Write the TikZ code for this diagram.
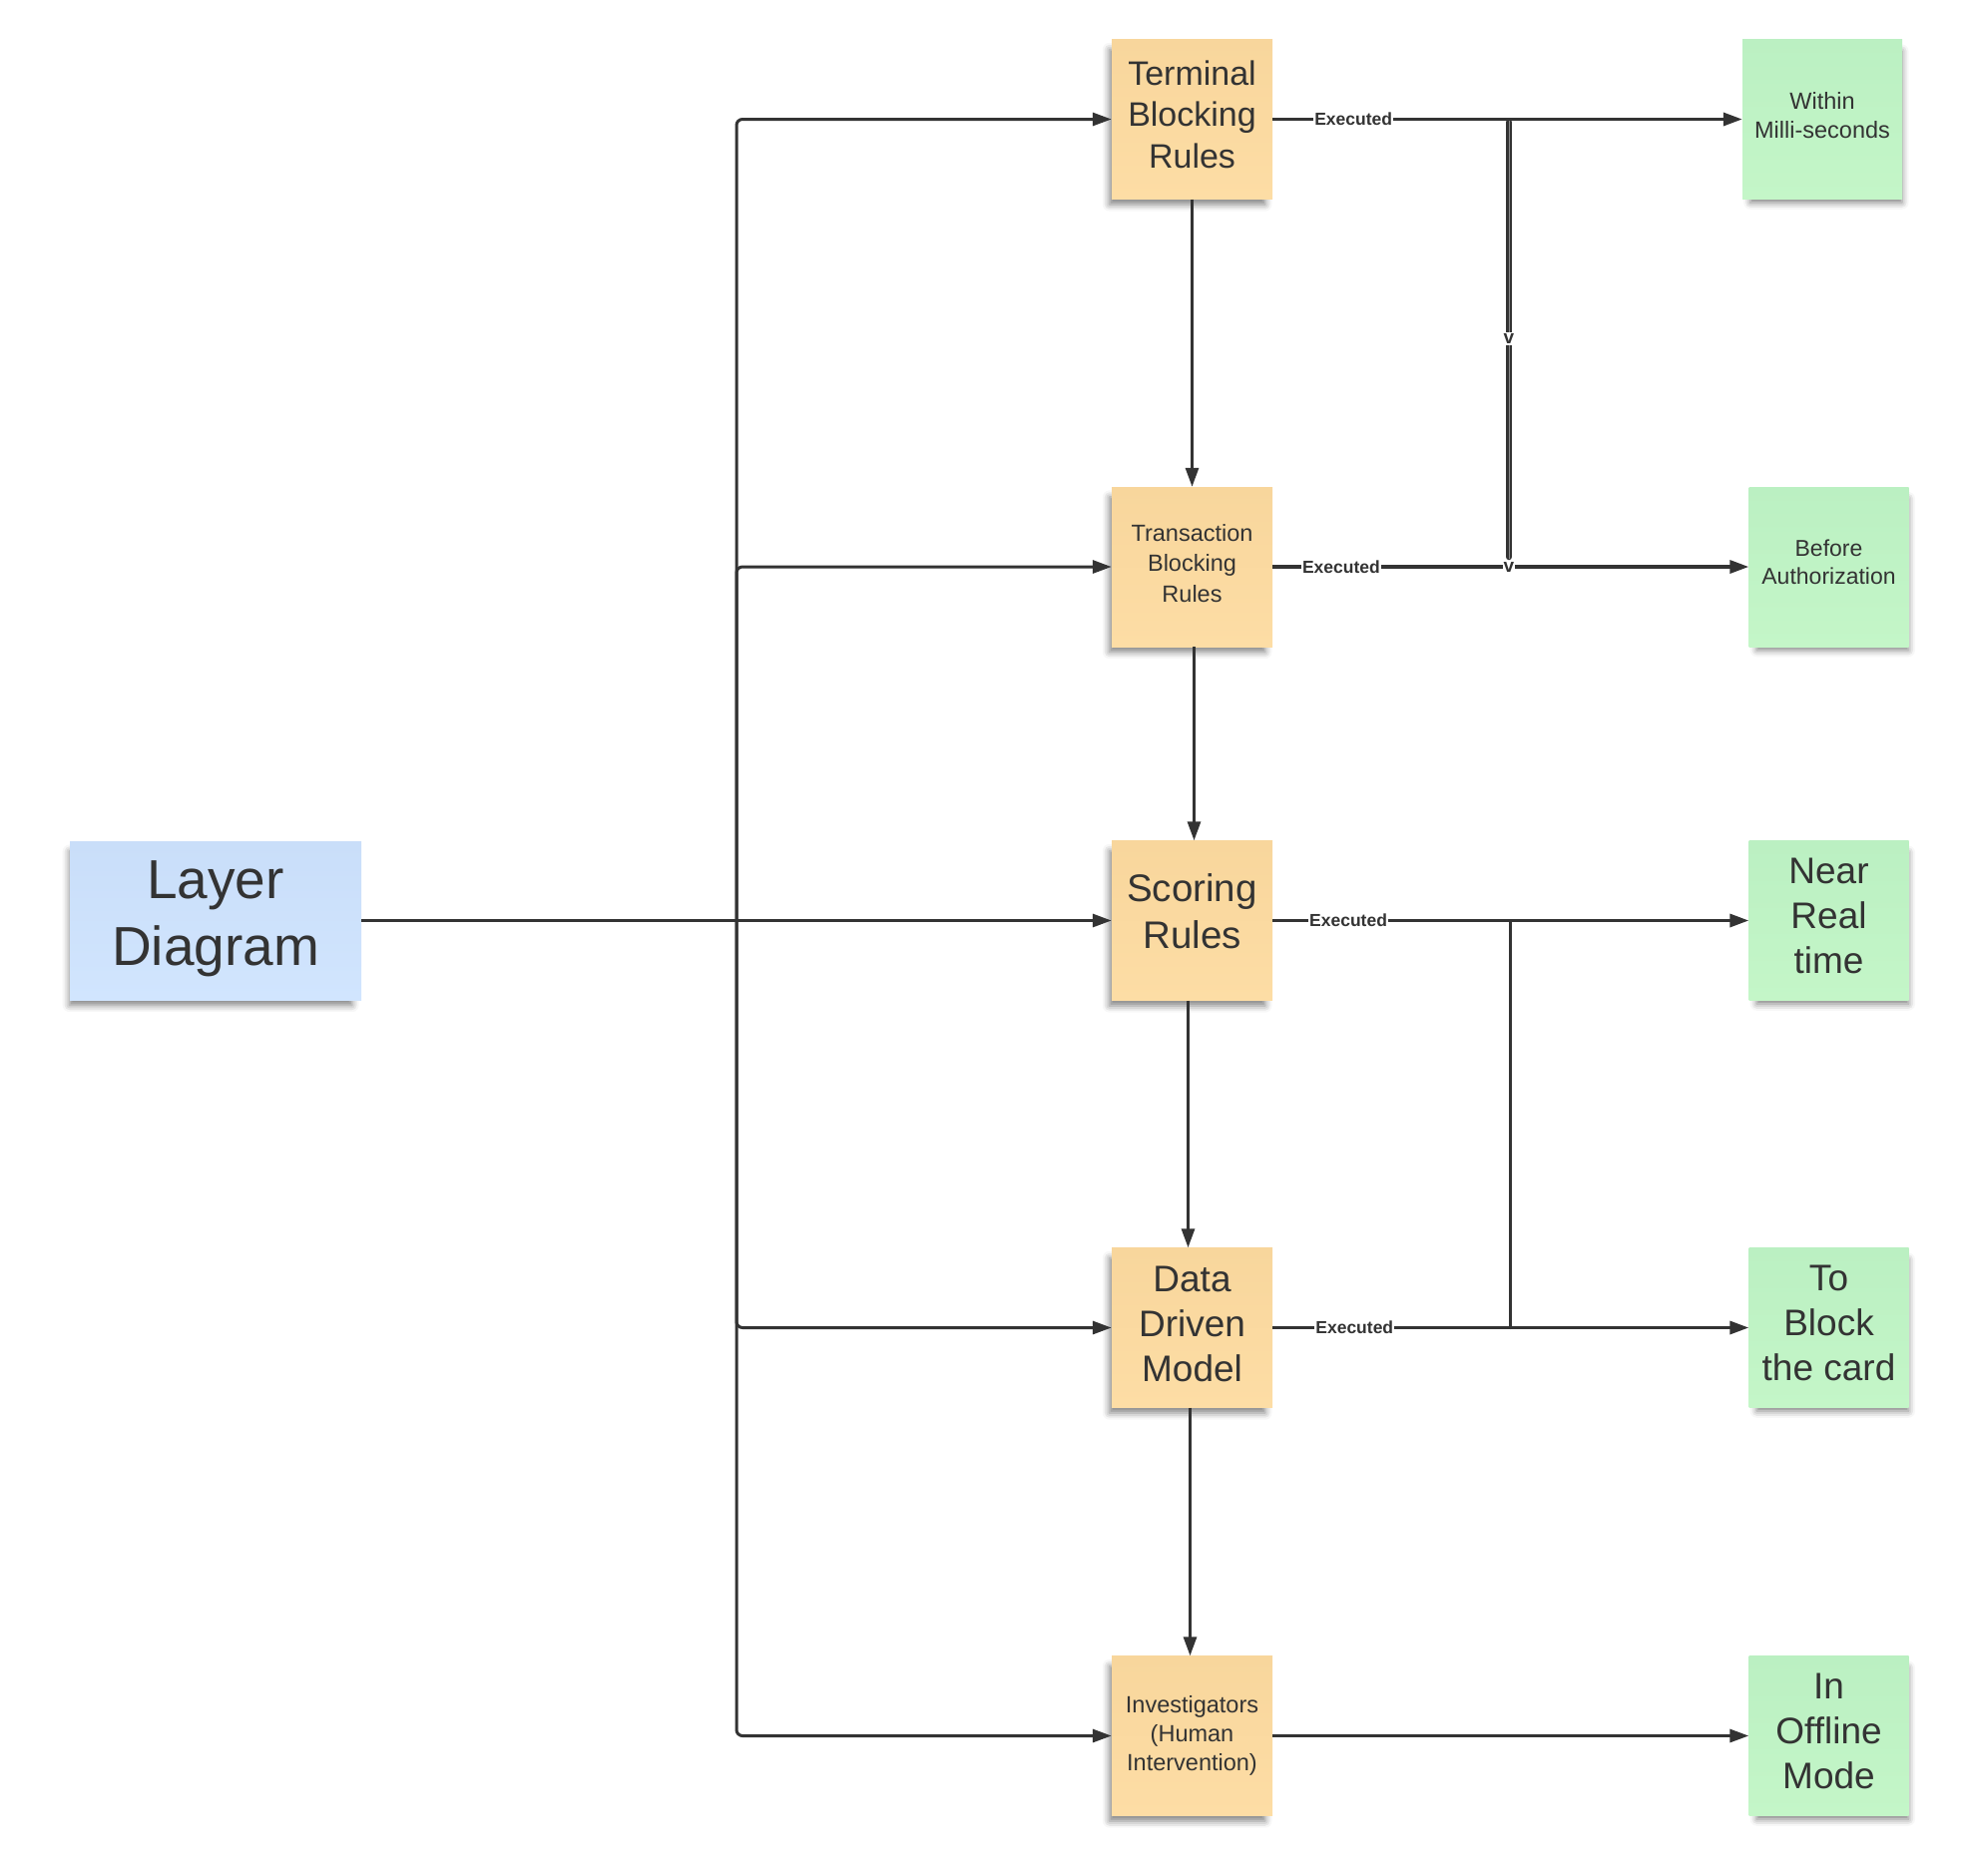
\documentclass[tikz,border=0pt]{standalone}
\usepackage{fontspec}
\setmainfont{Liberation Sans}
\usetikzlibrary{arrows.meta,shadows.blur}

\definecolor{ink}{HTML}{333333}
\definecolor{stripe}{HTML}{8A8A8A}
\definecolor{bluetop}{HTML}{C9DEF9}
\definecolor{bluebot}{HTML}{D1E5FE}
\definecolor{orangetop}{HTML}{F8D69C}
\definecolor{orangebot}{HTML}{FDDDA5}
\definecolor{greentop}{HTML}{BBF0C2}
\definecolor{greenbot}{HTML}{C4F6C8}

\newcommand{\fs}[1]{\fontsize{#1}{1.22\dimexpr #1pt\relax}\selectfont}
\newcommand{\fsl}[2]{\fontsize{#1}{#2}\selectfont}

\tikzset{
  x={(1pt,0)}, y={(0,-1pt)},
  note/.style={minimum width=161pt, minimum height=160pt, inner sep=3pt,
    align=center, text=ink},
  % deeper text box lifts the lines inside the note
  lift/.style={text depth=#1},
  leftshadow/.style={blur shadow={shadow xshift=-5pt, shadow yshift=-8pt,
    shadow opacity=50, shadow blur radius=7pt, shadow scale=0.97}},
  rightshadow/.style={blur shadow={shadow xshift=4pt, shadow yshift=-8pt,
    shadow opacity=50, shadow blur radius=7pt, shadow scale=0.95}},
  layernote/.style={note, leftshadow, top color=bluetop, bottom color=bluebot,
    minimum width=292pt, minimum height=159pt},
  rulenote/.style={note, leftshadow, top color=orangetop, bottom color=orangebot},
  timenote/.style={note, rightshadow, top color=greentop, bottom color=greenbot,
    minimum width=160pt},
  link/.style={draw=ink, line width=3pt},
  arrowlink/.style={link, -{Triangle[length=19pt, width=13pt]}},
  branch/.style={arrowlink, rounded corners=6pt},
  tag/.style={fill=white, inner sep=1pt, text=ink, font=\bfseries\fs{17.5}},
  vtag/.style={fill=white, inner sep=1.5pt, text=ink, font=\bfseries\fs{19}}
}

\begin{document}
\begin{tikzpicture}
\useasboundingbox (0,0) rectangle (1969,1879);

% source note
\node[layernote, lift=15pt, font=\fs{55}] (layer) at (216,922.5) {Layer\\Diagram};

% rule layers
\node[rulenote, lift=10pt, font=\fs{34}] (terminal) at (1194.5,119.5) {Terminal\\Blocking\\Rules};
\node[rulenote, lift=8pt, font=\fsl{23.5}{30.5}] (transaction) at (1194.5,568) {Transaction\\Blocking\\Rules};
\node[rulenote, lift=19pt, font=\fs{38.5}] (scoring) at (1194.5,922.5) {Scoring\\Rules};
\node[rulenote, lift=8pt, font=\fs{37}] (model) at (1194.5,1330.5) {Data\\Driven\\Model};
\node[rulenote, lift=5pt, font=\fs{23.5}] (human) at (1194.5,1739.5) {Investigators\\(Human\\Intervention)};

% timing notes
\node[timenote, lift=8pt, font=\fs{23.5}] (ms) at (1826,119.5) {Within\\Milli-seconds};
\node[timenote, lift=10pt, font=\fs{23}] (auth) at (1832.5,568) {Before\\Authorization};
\node[timenote, lift=10pt, font=\fs{37}] (near) at (1832.5,922.5) {Near\\Real\\time};
\node[timenote, lift=10pt, font=\fs{37}] (block) at (1832.5,1330.5) {To\\Block\\the card};
\node[timenote, lift=10pt, font=\fs{37}] (offline) at (1832.5,1739.5) {In\\Offline\\Mode};

% trunk fan-out
\coordinate (hub) at (738,922.5);
\draw[arrowlink] (layer.east) -- (hub) -- (scoring.west);
\draw[branch] (hub) |- (terminal.west);
\draw[branch] (hub) |- (transaction.west);
\draw[branch] (hub) |- (model.west);
\draw[branch] (hub) |- (human.west);

% layer to layer
\draw[arrowlink] (terminal.south) -- (transaction.north);
\draw[arrowlink] ([xshift=2pt]transaction.south) -- ([xshift=2pt]scoring.north);
\draw[arrowlink] ([xshift=-4pt]scoring.south) -- ([xshift=-4pt]model.north);
\draw[arrowlink] ([xshift=-2pt]model.south) -- ([xshift=-2pt]human.north);

% junctions on the execution lines
\coordinate (j1) at (1512,119.5);
\coordinate (j2) at (1512,568);
\coordinate (j3) at (1513,922.5);
\coordinate (j4) at (1513,1330.5);

% heavy connector between the two top execution lines
\draw[draw=ink, line width=6.5pt, line cap=round] ([yshift=-3pt]j1) -- ([yshift=10pt]j2);
\draw[draw=stripe, line width=0.7pt] ([yshift=-1pt]j1) -- ([yshift=8pt]j2);
\path (j1) -- (j2) node[vtag, pos=0.49] (vlabel) {v};
\draw[link, line cap=round] ([yshift=-1pt]j3) -- (j4);

% execution lines
\draw[arrowlink, line width=3.3pt] (terminal.east) -- node[tag, pos=0.172] {Executed} (ms.west);
\draw[arrowlink, line width=3.3pt] (transaction.east) -- node[tag, pos=0.144] {Executed} (auth.west);
\draw[arrowlink, line width=3.3pt] (scoring.east) -- node[tag, pos=0.159] {Executed} (near.west);
\draw[arrowlink, line width=3.3pt] (model.east) -- node[tag, pos=0.172] {Executed} (block.west);
\draw[arrowlink] (human.east) -- (offline.west);

\node[vtag, inner sep=0.5pt] (vmark) at (j2) {v};
\end{tikzpicture}
\end{document}
